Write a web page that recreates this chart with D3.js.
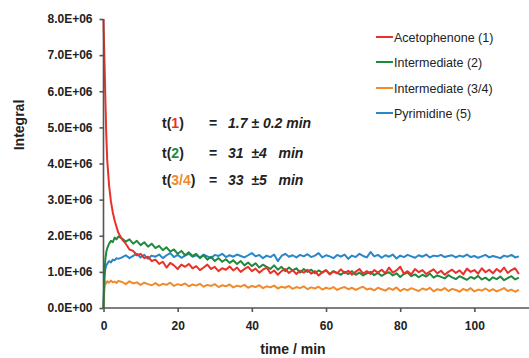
<!DOCTYPE html>
<html><head><meta charset="utf-8">
<script src="https://cdn.jsdelivr.net/npm/d3@7"></script>
<style>html,body{margin:0;padding:0;background:#fff;}svg{display:block;}</style>
</head><body>
<script>
// time points (min)
const times = [0,0.25,0.5,0.75,1,1.5,2,2.5,3,3.5,4,
5,6,7,8,9,10,11,12,13,14,15,16,17,18,19,20,21,22,23,24,25,26,27,28,29,30,31,32,33,34,
35,36,37,38,39,40,41,42,43,44,45,46,47,48,49,50,51,52,53,54,55,56,57,58,59,60,61,62,63,64,
65,66,67,68,69,70,71,72,73,74,75,76,77,78,79,80,81,82,83,84,85,86,87,88,89,90,91,92,93,94,
95,96,97,98,99,100,101,102,103,104,105,106,107,108,109,110,111,112];

// Integral values in units of 1E+06
const acetophenone = [8.0,6.9,5.8,4.8,4.1,3.4,2.95,2.65,2.42,2.25,2.08,
1.90,1.78,1.62,1.58,1.46,1.50,1.38,1.42,1.30,1.34,
1.22,1.28,1.12,1.25,1.18,1.08,1.20,1.14,1.22,1.10,
1.16,1.05,1.12,1.20,1.08,1.14,1.02,1.10,1.06,1.15,
1.04,1.12,1.00,1.08,1.14,1.02,1.09,0.98,1.06,1.12,
0.96,1.04,0.92,1.02,1.08,0.97,1.05,0.94,1.03,0.98,
1.06,0.95,1.02,0.90,0.99,1.04,0.93,1.01,0.96,1.07,
0.97,1.03,0.92,1.00,1.08,0.95,1.02,0.94,1.05,0.98,
1.06,0.96,1.12,0.98,1.04,1.14,0.95,1.02,0.93,1.08,
0.99,1.05,0.94,1.01,1.07,0.96,1.03,0.92,1.00,1.06,
0.97,1.04,0.93,1.09,1.00,1.05,0.95,1.10,0.99,1.06,
0.96,1.08,1.00,1.12,0.97,1.05,1.10,0.94];

const intermediate2 = [0,0.95,1.35,1.55,1.65,1.78,1.86,1.82,1.95,1.90,1.98,
1.92,1.84,1.90,1.78,1.86,1.74,1.82,1.70,1.78,1.66,
1.72,1.60,1.68,1.56,1.62,1.50,1.58,1.46,1.54,1.44,
1.50,1.38,1.46,1.34,1.42,1.30,1.38,1.28,1.35,1.25,
1.32,1.22,1.30,1.18,1.26,1.16,1.24,1.12,1.20,1.14,
1.08,1.18,1.06,1.14,1.02,1.12,1.04,1.10,0.98,1.08,
1.00,1.06,0.96,1.04,0.98,1.05,0.94,1.02,0.97,0.92,
1.00,0.94,1.02,0.92,0.98,0.90,0.96,1.00,0.91,0.97,
0.89,0.95,0.99,0.90,0.96,0.86,0.94,0.98,0.88,0.93,
0.85,0.92,0.87,0.95,0.84,0.90,0.86,0.82,0.91,0.85,
0.80,0.88,0.83,0.78,0.86,0.81,0.89,0.79,0.84,0.76,
0.85,0.80,0.87,0.77,0.83,0.88,0.79,0.84];

const intermediate34 = [0,0.55,0.72,0.68,0.74,0.70,0.76,0.71,0.73,0.69,0.75,
0.72,0.66,0.74,0.68,0.71,0.64,0.70,0.66,0.63,0.69,
0.62,0.67,0.64,0.70,0.61,0.66,0.63,0.68,0.60,0.65,
0.62,0.67,0.59,0.64,0.61,0.66,0.58,0.63,0.60,0.65,
0.57,0.62,0.59,0.64,0.56,0.61,0.58,0.63,0.55,0.60,
0.57,0.62,0.54,0.59,0.56,0.61,0.53,0.58,0.55,0.60,
0.52,0.57,0.54,0.59,0.51,0.56,0.53,0.58,0.50,0.55,
0.58,0.52,0.56,0.50,0.55,0.59,0.51,0.54,0.49,0.56,
0.52,0.48,0.55,0.50,0.57,0.47,0.53,0.49,0.55,0.51,
0.47,0.54,0.50,0.56,0.46,0.52,0.49,0.55,0.47,0.53,
0.50,0.45,0.53,0.48,0.55,0.46,0.51,0.48,0.54,0.47,
0.52,0.46,0.50,0.55,0.47,0.51,0.45,0.50];

const pyrimidine = [0,0.85,1.08,1.18,1.22,1.30,1.26,1.34,1.32,1.38,1.36,
1.40,1.46,1.38,1.44,1.50,1.40,1.47,1.36,1.45,1.42,
1.48,1.38,1.46,1.52,1.41,1.47,1.39,1.45,1.50,1.42,
1.46,1.40,1.48,1.43,1.38,1.47,1.44,1.50,1.41,1.46,
1.42,1.48,1.44,1.40,1.46,1.52,1.43,1.47,1.38,1.45,
1.41,1.48,1.30,1.44,1.50,1.42,1.46,1.40,1.47,1.43,
1.49,1.41,1.45,1.52,1.40,1.46,1.43,1.38,1.47,1.42,
1.48,1.36,1.45,1.41,1.50,1.44,1.40,1.55,1.43,1.47,
1.39,1.46,1.42,1.48,1.37,1.45,1.41,1.47,1.43,1.39,
1.46,1.42,1.48,1.40,1.45,1.43,1.47,1.41,1.44,1.46,
1.40,1.45,1.42,1.48,1.41,1.44,1.39,1.43,1.47,1.40,
1.44,1.41,1.38,1.45,1.42,1.47,1.40,1.43];

const seriesNames = ["Acetophenone (1)","Intermediate (2)","Intermediate (3/4)","Pyrimidine (5)"];
const seriesColors = ["#e8312a","#1f8a3c","#f08a2c","#2a86c8"];
const yTicks = [0,1e6,2e6,3e6,4e6,5e6,6e6,7e6,8e6];
const yTickLabels = ["0.0E+00","1.0E+06","2.0E+06","3.0E+06","4.0E+06","5.0E+06","6.0E+06","7.0E+06","8.0E+06"];
const xTicks = [0,20,40,60,80,100];

const W = 529, H = 358;
const svg = d3.select("body").append("svg").attr("width", W).attr("height", H);

const x = d3.scaleLinear().domain([0,115]).range([103.5,530]);
const y = d3.scaleLinear().domain([0,8e6]).range([308,19]);

const font = "'Liberation Sans', Arial, Helvetica, sans-serif";

const allSeries = [acetophenone, intermediate2, intermediate34, pyrimidine];
const line = d3.line().x(d => x(d[0])).y(d => y(d[1]*1e6));
[3,2,1,0].forEach(i => {
  svg.append("path")
    .datum(times.map((t,k) => [t, allSeries[i][k]]))
    .attr("fill","none")
    .attr("stroke", seriesColors[i])
    .attr("stroke-width", 2)
    .attr("stroke-linejoin","round")
    .attr("d", line);
});

// axes
const yAxis = svg.append("g").attr("transform","translate(103.5,0)")
  .call(d3.axisLeft(y).tickValues(yTicks).tickFormat((d,i)=>yTickLabels[i]).tickSize(4).tickPadding(7));
const xAxis = svg.append("g").attr("transform","translate(0,308)")
  .call(d3.axisBottom(x).tickValues(xTicks).tickFormat(d3.format("d")).tickSize(4).tickPadding(9));
[yAxis, xAxis].forEach(g => {
  g.select(".domain").attr("stroke","#555").attr("stroke-width",1.6);
  g.selectAll(".tick line").attr("stroke","#555").attr("stroke-width",1.6);
  g.selectAll(".tick text").attr("fill","#222").attr("font-family",font)
    .attr("font-weight","bold").attr("font-size","12px");
});
yAxis.select(".domain").attr("d","M0,19V308");
xAxis.select(".domain").attr("d","M103.5,0H529");

// axis titles
svg.append("text").attr("transform","translate(24,125) rotate(-90)")
  .attr("text-anchor","middle").attr("font-family",font).attr("font-weight","bold")
  .attr("font-size","14px").attr("fill","#222").text("Integral");
svg.append("text").attr("x",293).attr("y",354)
  .attr("text-anchor","middle").attr("font-family",font).attr("font-weight","bold")
  .attr("font-size","14px").attr("fill","#222").text("time / min");

// legend
const legY = [37,62,88,113];
seriesNames.forEach((n,i) => {
  svg.append("line").attr("x1",376).attr("x2",393).attr("y1",legY[i]).attr("y2",legY[i])
    .attr("stroke",seriesColors[i]).attr("stroke-width",2);
  svg.append("text").attr("x",394).attr("y",legY[i]+4.5).attr("font-family",font)
    .attr("font-size","12.5px").attr("fill","#222").text(n);
});

// annotation
const annLabels = ["1","2","3/4"];
const annColors = ["#e8312a","#1f8a3c","#f08a2c"];
const annValues = ["1.7 \u00b1 0.2 min","31  \u00b14   min","33  \u00b15   min"];
const annY = [128,158,185];
annLabels.forEach((lab,i) => {
  const t = svg.append("text").attr("x",162).attr("y",annY[i]).attr("font-family",font)
    .attr("font-size","14px").attr("font-weight","bold").attr("fill","#222");
  t.append("tspan").text("t(");
  t.append("tspan").attr("fill",annColors[i]).text(lab);
  t.append("tspan").text(")");
  svg.append("text").attr("x",209).attr("y",annY[i]).attr("font-family",font)
    .attr("font-size","14px").attr("font-weight","bold").attr("fill","#222").text("=");
  svg.append("text").attr("x",228).attr("y",annY[i]).attr("font-family",font)
    .attr("font-size","14px").attr("font-weight","bold").attr("font-style","italic")
    .attr("fill","#222").style("white-space","pre").text(annValues[i]);
});
</script>
</body></html>
